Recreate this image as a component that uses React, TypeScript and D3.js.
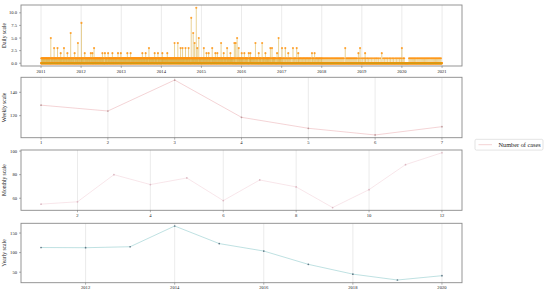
import React from 'react';
import * as d3 from 'd3';

// ---------- DATA ----------
// Daily scale: days with more than one case
const spikeDates = [
  '2011-03-31', '2011-04-30', '2011-05-31', '2011-06-29', '2011-07-29', '2011-08-29', '2011-09-28', '2011-11-03', '2011-12-03',
  '2012-01-04', '2012-02-03', '2012-03-29', '2012-04-13', '2012-04-28', '2012-07-13', '2012-08-05', '2012-09-03', '2012-10-12', '2012-12-02', '2012-12-28',
  '2013-02-25', '2013-03-27', '2013-07-12', '2013-08-11', '2013-09-10', '2013-11-01', '2013-12-01',
  '2014-01-10', '2014-02-24', '2014-05-01', '2014-05-31', '2014-06-25', '2014-07-13', '2014-08-09', '2014-09-06', '2014-09-30', '2014-10-18', '2014-10-31', '2014-11-15', '2014-11-24', '2014-12-08',
  '2015-01-23', '2015-02-16', '2015-03-08', '2015-04-09', '2015-05-08', '2015-05-26', '2015-06-29', '2015-07-23', '2015-08-23', '2015-09-22', '2015-10-28', '2015-11-09', '2015-11-22', '2015-12-07',
  '2016-01-03', '2016-01-27', '2016-03-07', '2016-03-22', '2016-05-07', '2016-06-06', '2016-07-07', '2016-08-06', '2016-09-20', '2016-10-05', '2016-11-20', '2016-12-04',
  '2017-01-04', '2017-02-03', '2017-03-02', '2017-04-14', '2017-05-18', '2017-06-01', '2017-10-04', '2017-10-28',
  '2018-08-03', '2018-12-01', '2018-12-16',
  '2019-01-31', '2019-07-02',
  '2020-01-01',
];
const spikeCounts = [
  5, 3, 3, 2, 3, 2, 6, 2, 4,
  8, 2, 2, 2, 3, 2, 2, 2, 2, 2, 2,
  2, 2, 2, 2, 3, 2, 2,
  2, 2, 4, 4, 3, 3, 3, 3, 9, 6, 4, 11, 2, 5,
  3, 2, 2, 3, 2, 2, 4, 2, 3, 2, 4, 4, 5, 3,
  2, 2, 2, 2, 4, 2, 4, 2, 3, 3, 2, 5,
  3, 3, 2, 3, 3, 2, 2, 2,
  3, 2, 2,
  2, 2,
  3,
];
// Daily scale: day-of-year of days with exactly one case
const oneCaseDays2011 = [3, 7, 12, 15, 19, 24, 26, 31, 35, 38, 43, 47, 50, 54, 58, 61, 66, 70, 73, 77, 81, 84, 93, 97, 101, 104, 108, 112, 116, 124, 127, 131, 135, 139, 143, 146, 155, 158, 162, 166, 170, 173, 177, 184, 187, 191, 195, 199, 203, 206, 214, 218, 221, 225, 229, 233, 236, 245, 248, 252, 256, 260, 264, 267, 275, 279, 282, 286, 290, 294, 297, 301, 311, 314, 318, 322, 326, 330, 333, 341, 345, 349, 353, 356, 361];
const oneCaseDays2012 = [2, 6, 10, 13, 17, 21, 25, 28, 37, 40, 44, 48, 51, 55, 59, 62, 66, 70, 73, 77, 80, 84, 92, 95, 99, 107, 110, 114, 121, 125, 129, 132, 136, 140, 143, 147, 151, 154, 158, 162, 166, 169, 173, 177, 180, 184, 188, 191, 198, 202, 206, 209, 219, 222, 226, 230, 233, 237, 241, 249, 252, 256, 260, 263, 267, 271, 274, 278, 281, 289, 292, 296, 300, 303, 307, 311, 314, 318, 322, 325, 329, 333, 340, 344, 347, 351, 355, 358, 362];
const oneCaseDays2013 = [3, 6, 9, 13, 16, 19, 22, 26, 29, 32, 35, 39, 42, 45, 48, 51, 59, 62, 65, 69, 72, 75, 78, 81, 89, 92, 95, 99, 102, 105, 108, 112, 115, 118, 121, 125, 128, 131, 134, 138, 141, 144, 147, 151, 154, 157, 160, 164, 167, 170, 173, 177, 180, 183, 186, 189, 196, 199, 202, 205, 209, 212, 215, 218, 225, 228, 231, 235, 238, 241, 244, 247, 255, 258, 261, 264, 268, 271, 274, 277, 281, 284, 287, 290, 293, 296, 299, 307, 310, 313, 316, 320, 323, 326, 329, 337, 340, 343, 347, 350, 353, 356, 360, 363];
const oneCaseDays2014 = [2, 5, 8, 12, 14, 17, 20, 23, 26, 29, 32, 35, 38, 41, 44, 47, 50, 53, 58, 61, 64, 67, 70, 73, 76, 79, 82, 85, 88, 91, 94, 97, 100, 103, 106, 109, 112, 115, 118, 124, 127, 130, 133, 136, 139, 142, 145, 148, 154, 157, 160, 163, 166, 169, 172, 178, 181, 184, 187, 190, 196, 199, 202, 205, 208, 211, 214, 217, 224, 227, 230, 233, 236, 239, 242, 245, 252, 255, 258, 261, 264, 267, 276, 279, 282, 285, 288, 294, 297, 300, 307, 310, 313, 316, 322, 325, 328, 331, 334, 337, 345, 348, 351, 354, 357, 360, 363];
const oneCaseDays2015 = [3, 7, 10, 14, 17, 20, 27, 30, 33, 37, 40, 43, 50, 53, 56, 60, 63, 70, 73, 76, 79, 83, 86, 92, 95, 102, 105, 108, 112, 115, 118, 121, 125, 131, 134, 138, 141, 149, 152, 156, 159, 162, 166, 169, 173, 176, 183, 186, 189, 193, 196, 199, 207, 210, 213, 217, 220, 224, 227, 232, 238, 241, 245, 248, 251, 255, 258, 262, 268, 271, 274, 277, 280, 284, 287, 292, 295, 303, 306, 316, 319, 330, 333, 337, 345, 348, 352, 356, 360, 363];
const oneCaseDays2016 = [5, 9, 13, 17, 21, 31, 35, 39, 43, 47, 51, 55, 59, 71, 75, 79, 83, 87, 91, 95, 99, 103, 107, 111, 115, 119, 123, 132, 136, 140, 144, 148, 152, 162, 166, 170, 174, 178, 182, 193, 197, 201, 205, 209, 213, 222, 226, 230, 234, 238, 242, 246, 250, 254, 258, 268, 272, 283, 287, 291, 295, 299, 303, 307, 314, 318, 330, 334, 343, 347, 351, 355, 359, 363];
const oneCaseDays2017 = [8, 15, 22, 29, 40, 47, 54, 66, 73, 80, 87, 97, 110, 117, 124, 131, 143, 155, 162, 169, 176, 183, 190, 197, 204, 211, 218, 225, 232, 239, 246, 253, 260, 267, 280, 287, 294, 308, 315, 322, 329, 336, 343, 350, 357, 364];
const oneCaseDays2018 = [5, 14, 23, 32, 41, 50, 59, 68, 77, 86, 95, 104, 113, 122, 131, 140, 149, 158, 167, 176, 185, 194, 203, 224, 233, 242, 251, 260, 269, 278, 287, 296, 305, 314, 323, 341, 350, 359];
const oneCaseDays2019 = [9, 22, 36, 49, 61, 75, 88, 102, 115, 129, 140, 154, 168, 195, 209, 222, 236, 250, 263, 277, 290, 304, 318, 331, 345, 358];
const oneCaseDays2020 = [12, 22, 66, 76, 86, 96, 106, 116, 126, 137, 147, 157, 167, 177, 187, 197, 207, 217, 227, 237, 247, 257, 267, 277, 287, 297, 307, 317, 327, 337, 347, 357];
const oneCaseDaysByYear = [oneCaseDays2011, oneCaseDays2012, oneCaseDays2013, oneCaseDays2014, oneCaseDays2015, oneCaseDays2016, oneCaseDays2017, oneCaseDays2018, oneCaseDays2019, oneCaseDays2020];
const firstDay = '2011-01-01';
const lastDay = '2020-12-31';
const dailyTicks = [2011, 2012, 2013, 2014, 2015, 2016, 2017, 2018, 2019, 2020, 2021];
const dailyYTicks = [0, 2.5, 5, 7.5, 10];

const weekDays = [1, 2, 3, 4, 5, 6, 7];
const weeklyCases = [129, 124, 150.5, 118.6, 109.2, 103.5, 110.6];
const weeklyYTicks = [120, 140];

const months = [1, 2, 3, 4, 5, 6, 7, 8, 9, 10, 11, 12];
const monthlyCases = [55, 57, 80, 71.6, 77.2, 58, 75.5, 69.6, 52.1, 67.3, 88.5, 98.6];
const monthlyXTicks = [2, 4, 6, 8, 10, 12];
const monthlyYTicks = [60, 80, 100];

const years = [2011, 2012, 2013, 2014, 2015, 2016, 2017, 2018, 2019, 2020];
const yearlyCases = [113, 112.5, 115, 168, 123, 104, 70, 45, 30, 41];
const yearlyXTicks = [2012, 2014, 2016, 2018, 2020];
const yearlyYTicks = [50, 100, 150];

const legendLabel = 'Number of cases';

// ---------- LAYOUT ----------
const W = 550, H = 295;
const L = 21, R = 462;
const FONT = '"Liberation Serif", "DejaVu Serif", serif';

function padDomain(vals: number[]): [number, number] {
  const lo = d3.min(vals)!, hi = d3.max(vals)!;
  const m = (hi - lo) * 0.05;
  return [lo - m, hi + m];
}

type FrameProps = {
  top: number; bottom: number;
  xPos: number[]; xLabels: string[];
  yScale: d3.ScaleLinear<number, number>; yTicks: number[]; yFmt: (v: number) => string;
  label: string; children?: React.ReactNode;
};

function Frame({ top, bottom, xPos, xLabels, yScale, yTicks, yFmt, label, children }: FrameProps) {
  return (
    <g>
      {xPos.map((x, i) => (
        <line key={'g' + i} x1={x} x2={x} y1={top} y2={bottom} stroke="#dedede" strokeWidth={0.6} />
      ))}
      {children}
      <rect x={L} y={top} width={R - L} height={bottom - top} fill="none" stroke="#8a8a8a" strokeWidth={0.9} />
      {xPos.map((x, i) => (
        <g key={'x' + i}>
          <line x1={x} x2={x} y1={bottom} y2={bottom + 2} stroke="#666" strokeWidth={0.5} />
          <text x={x} y={bottom + 6.6} fontSize={4.6} textAnchor="middle" fill="#222" fontFamily={FONT}>{xLabels[i]}</text>
        </g>
      ))}
      {yTicks.map((v, i) => (
        <g key={'y' + i}>
          <line x1={L - 2} x2={L} y1={yScale(v)} y2={yScale(v)} stroke="#666" strokeWidth={0.5} />
          <text x={L - 4} y={yScale(v) + 1.6} fontSize={4.6} textAnchor="end" fill="#222" fontFamily={FONT}>{yFmt(v)}</text>
        </g>
      ))}
      <text transform={`translate(5.6,${(top + bottom) / 2}) rotate(-90)`} fontSize={5.6} textAnchor="middle" fill="#222" fontFamily={FONT}>{label}</text>
    </g>
  );
}

function LinePanel({ top, bottom, xs, ys, xDomain, xTicks, xFmt, yTicks, label, color, markColor, width }: any) {
  const x = d3.scaleLinear().domain(xDomain).range([L, R]);
  const y = d3.scaleLinear().domain(padDomain(ys)).range([bottom, top]);
  const pts: [number, number][] = xs.map((v: number, i: number) => [x(v), y(ys[i])]);
  const path = d3.line()(pts) || '';
  return (
    <Frame top={top} bottom={bottom} xPos={xTicks.map((t: number) => x(t))} xLabels={xTicks.map(xFmt)}
      yScale={y} yTicks={yTicks} yFmt={(v) => String(v)} label={label}>
      <path d={path} fill="none" stroke={color} strokeWidth={width} />
      {pts.map((p, i) => <circle key={i} cx={p[0]} cy={p[1]} r={0.85} fill={markColor} />)}
    </Frame>
  );
}

function DailyPanel({ top, bottom }: { top: number; bottom: number }) {
  const parse = d3.utcParse('%Y-%m-%d');
  const counts = new Map<number, number>();
  spikeDates.forEach((s, i) => {
    const t = parse(s)!.getTime();
    counts.set(t, (counts.get(t) || 0) + spikeCounts[i]);
  });
  oneCaseDaysByYear.forEach((arr, yi) => {
    arr.forEach((doy) => {
      const t = Date.UTC(2011 + yi, 0, doy);
      counts.set(t, (counts.get(t) || 0) + 1);
    });
  });
  const d0 = parse(firstDay)!, d1 = parse(lastDay)!;
  const days = d3.utcDay.range(d0, d3.utcDay.offset(d1, 1));
  const data = days.map((d) => ({ d, v: counts.get(d.getTime()) || 0 }));
  const span = d1.getTime() - d0.getTime();
  const x = d3.scaleUtc().domain([new Date(d0.getTime() - span * 0.05), new Date(d1.getTime() + span * 0.05)]).range([L, R]);
  const maxV = d3.max(data, (e) => e.v)!;
  const y = d3.scaleLinear().domain([-maxV * 0.05, maxV * 1.05]).range([bottom, top]);
  const tickDates = dailyTicks.map((yr) => new Date(Date.UTC(yr, 0, 1)));
  return (
    <Frame top={top} bottom={bottom} xPos={tickDates.map((d) => x(d))} xLabels={dailyTicks.map(String)}
      yScale={y} yTicks={dailyYTicks} yFmt={(v) => v.toFixed(1)} label="Daily scale">
      {data.filter((e) => e.v > 0).map((e, i) => (
        <line key={'s' + i} x1={x(e.d)} x2={x(e.d)} y1={y(0)} y2={y(e.v)} stroke="#d9ad3a" strokeWidth={0.55} />
      ))}
      {data.map((e, i) => (
        <circle key={'m' + i} cx={x(e.d)} cy={y(e.v)} r={1.05} fill="#ff9410" fillOpacity={0.85} />
      ))}
      <line x1={x(d0)} x2={x(d1)} y1={y(0)} y2={y(0)} stroke="#6cb82c" strokeWidth={0.6} strokeOpacity={0.8} />
    </Frame>
  );
}

export default function App() {
  return (
    <svg width={W} height={H} style={{ position: 'absolute', left: 0, top: 0, background: '#fff' }}>
      <rect width={W} height={H} fill="#fff" />
      <DailyPanel top={5} bottom={66} />
      <LinePanel top={77.3} bottom={137.7} xs={weekDays} ys={weeklyCases} xDomain={[0.7, 7.3]} xTicks={weekDays}
        xFmt={String} yTicks={weeklyYTicks} label="Weekly scale" color="#f0c6c8" markColor="#c09a9c" width={0.75} />
      <LinePanel top={150} bottom={210.3} xs={months} ys={monthlyCases} xDomain={[0.45, 12.55]} xTicks={monthlyXTicks}
        xFmt={String} yTicks={monthlyYTicks} label="Monthly scale" color="#f6dde3" markColor="#dcb8c2" width={0.75} />
      <LinePanel top={223.3} bottom={282.7} xs={years} ys={yearlyCases} xDomain={[2010.55, 2020.45]} xTicks={yearlyXTicks}
        xFmt={String} yTicks={yearlyYTicks} label="Yearly scale" color="#b4dcdd" markColor="#5f7886" width={0.85} />
      <g>
        <rect x={475} y={139.3} width={68} height={10.8} rx={1.5} fill="#fff" stroke="#d0d0d0" strokeWidth={0.6} />
        <line x1={478.5} x2={492} y1={144.7} y2={144.7} stroke="#f0c6c8" strokeWidth={0.8} />
        <text x={498.5} y={146.8} fontSize={6.3} fill="#222" fontFamily={FONT}>{legendLabel}</text>
      </g>
    </svg>
  );
}
